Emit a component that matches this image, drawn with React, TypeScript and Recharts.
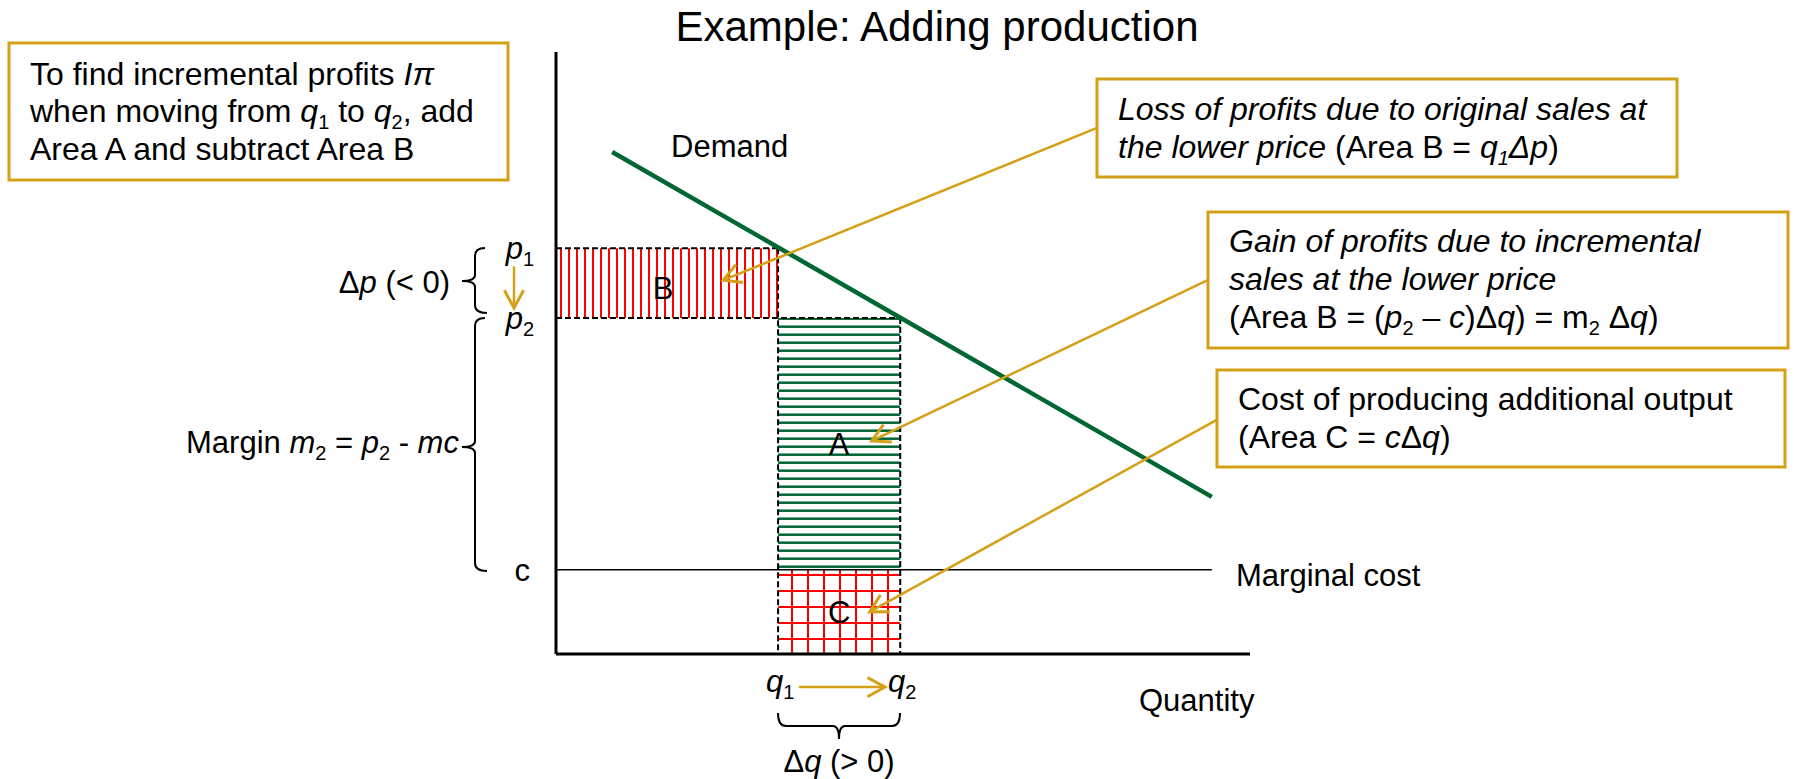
import React from "react";
import {
  ComposedChart,
  XAxis,
  YAxis,
  Line,
  ReferenceArea,
  ReferenceLine,
} from "recharts";

const W = 1794;
const H = 779;
const GOLD = "#D4A017";
const GREEN = "#006633";
const RED = "#FF0000";
const FONT = '"Liberation Sans", Arial, Helvetica, sans-serif';

// quantities and prices (axis units 0..100)
const q1 = 32;
const q2 = 49.6;
const p1 = 67.4;
const p2 = 55.8;
const mc = 14;

const demandPoints = [
  { x: 8.1, y: 83.4 },
  { x: 94.5, y: 26.1 },
];
const mcPoints = [
  { x: 0, y: mc },
  { x: 94.5, y: mc },
];

const xTicks = [q1, q2];
const xTickLabels = [
  ["q", "1"],
  ["q", "2"],
];
const yTicks = [mc, p2, p1];
const yTickLabels = [
  ["c", ""],
  ["p", "2"],
  ["p", "1"],
];

// gold callout arrows, tail -> tip
const calloutArrows = [
  { from: { x: 77.95, y: 87.4 }, to: { x: 24.1, y: 62.1 } },
  { from: { x: 93.9, y: 62.1 }, to: { x: 45.5, y: 35.4 } },
  { from: { x: 95.2, y: 38.9 }, to: { x: 45.2, y: 7.0 } },
  { from: { x: 35.0, y: -5.5 }, to: { x: 47.4, y: -5.5 } },
  { from: { x: -6.05, y: 64.4 }, to: { x: -6.05, y: 57.5 } },
];

const dashedEdges = [
  [{ x: 0, y: p1 }, { x: q1, y: p1 }],
  [{ x: 0, y: p2 }, { x: q2, y: p2 }],
  [{ x: q1, y: p1 }, { x: q1, y: 0 }],
  [{ x: q2, y: p2 }, { x: q2, y: 0 }],
];

type Seg = { t: string; i?: boolean; s?: boolean };

// text with italic pieces and subscripts
function Rich({ segs, ...rest }: { segs: Seg[]; [k: string]: any }) {
  let down = false;
  return (
    <text {...rest} style={{ whiteSpace: "pre" }}>
      {segs.map((g, k) => {
        let dy = 0;
        if (g.s && !down) {
          dy = 7;
          down = true;
        } else if (!g.s && down) {
          dy = -7;
          down = false;
        }
        return (
          <tspan
            key={k}
            dy={dy || undefined}
            fontStyle={g.i ? "italic" : undefined}
            fontSize={g.s ? 20 : undefined}
          >
            {g.t}
          </tspan>
        );
      })}
    </text>
  );
}

function ArrowShape(props: any) {
  const { x1, y1, x2, y2 } = props;
  const ang = Math.atan2(y2 - y1, x2 - x1);
  const len = 20;
  const spread = 0.5;
  const ax = x2 - len * Math.cos(ang - spread);
  const ay = y2 - len * Math.sin(ang - spread);
  const bx = x2 - len * Math.cos(ang + spread);
  const by = y2 - len * Math.sin(ang + spread);
  return (
    <g>
      <line x1={x1} y1={y1} x2={x2} y2={y2} stroke={GOLD} strokeWidth={2.5} />
      <polyline
        points={`${ax},${ay} ${x2},${y2} ${bx},${by}`}
        fill="none"
        stroke={GOLD}
        strokeWidth={3}
      />
    </g>
  );
}

function PriceTick(props: any) {
  const { x, y, payload } = props;
  const i = yTicks.indexOf(payload.value);
  const [base, sub] = yTickLabels[i] || ["", ""];
  const segs: Seg[] = [{ t: base, i: !!sub }];
  if (sub) segs.push({ t: sub, s: true });
  return (
    <Rich
      segs={segs}
      x={sub ? x - 14 : x - 18}
      y={y + 11}
      textAnchor="end"
      fontSize={31}
      fill="#000"
      fontFamily={FONT}
    />
  );
}

function QuantityTick(props: any) {
  const { x, y, payload } = props;
  const i = xTicks.indexOf(payload.value);
  const [base, sub] = xTickLabels[i] || ["", ""];
  return (
    <Rich
      segs={[{ t: base, i: true }, { t: sub, s: true }]}
      x={x + 2}
      y={y + 30}
      textAnchor="middle"
      fontSize={31}
      fill="#000"
      fontFamily={FONT}
    />
  );
}

function vBrace(x: number, y1: number, y2: number, ym: number) {
  const r = 8;
  return `M ${x + 10} ${y1} Q ${x} ${y1} ${x} ${y1 + r} L ${x} ${ym - 6} Q ${x} ${ym} ${x - 13} ${ym} Q ${x} ${ym} ${x} ${ym + 6} L ${x} ${y2 - r} Q ${x} ${y2} ${x + 12} ${y2}`;
}

function hBrace(y: number, x1: number, x2: number, xm: number) {
  return `M ${x1} ${y - 13} Q ${x1} ${y} ${x1 + 8} ${y} L ${xm - 6} ${y} Q ${xm} ${y} ${xm} ${y + 13} Q ${xm} ${y} ${xm + 6} ${y} L ${x2 - 8} ${y} Q ${x2} ${y} ${x2} ${y - 13}`;
}

function Overlay() {
  const box = { fill: "#fff", stroke: GOLD, strokeWidth: 3 };
  return (
    <svg
      width={W}
      height={H}
      style={{ position: "absolute", left: 0, top: 0, pointerEvents: "none" }}
      fontFamily={FONT}
      fontSize={32}
    >
      <defs>
        <pattern id="vStripes" patternUnits="userSpaceOnUse" width={8} height={8}>
          <line x1={1} y1={0} x2={1} y2={8} stroke={RED} strokeWidth={2} />
        </pattern>
        <pattern id="hStripes" patternUnits="userSpaceOnUse" width={8} height={8}>
          <line x1={0} y1={6.7} x2={8} y2={6.7} stroke={GREEN} strokeWidth={2.5} />
        </pattern>
        <pattern id="grid" patternUnits="userSpaceOnUse" width={16} height={16}>
          <line x1={8} y1={0} x2={8} y2={16} stroke={RED} strokeWidth={2} />
          <line x1={0} y1={15} x2={16} y2={15} stroke={RED} strokeWidth={2} />
        </pattern>
      </defs>

      <text x={937} y={41} fontSize={42} textAnchor="middle">
        Example: Adding production
      </text>

      <rect x={9} y={43} width={499} height={137} {...box} />
      <Rich x={30} y={85} segs={[{ t: "To find incremental profits " }, { t: "Iπ", i: true }]} />
      <Rich
        x={30}
        y={122}
        segs={[
          { t: "when moving from " },
          { t: "q", i: true },
          { t: "1", s: true },
          { t: " to " },
          { t: "q", i: true },
          { t: "2", s: true },
          { t: ", add" },
        ]}
      />
      <Rich x={30} y={160} segs={[{ t: "Area A and subtract Area B" }]} />

      <rect x={1097} y={79} width={580} height={98} {...box} />
      <Rich x={1118} y={120} segs={[{ t: "Loss of profits due to original sales at", i: true }]} />
      <Rich
        x={1118}
        y={158}
        segs={[
          { t: "the lower price", i: true },
          { t: " (Area B = " },
          { t: "q", i: true },
          { t: "1", i: true, s: true },
          { t: "Δp", i: true },
          { t: ")" },
        ]}
      />

      <rect x={1208} y={212} width={580} height={136} {...box} />
      <Rich x={1229} y={252} segs={[{ t: "Gain of profits due to incremental", i: true }]} />
      <Rich x={1229} y={290} segs={[{ t: "sales at the lower price", i: true }]} />
      <Rich
        x={1229}
        y={328}
        segs={[
          { t: "(Area B = (" },
          { t: "p", i: true },
          { t: "2", s: true },
          { t: " – " },
          { t: "c", i: true },
          { t: ")Δ" },
          { t: "q", i: true },
          { t: ") = m" },
          { t: "2", s: true },
          { t: " Δ" },
          { t: "q", i: true },
          { t: ")" },
        ]}
      />

      <rect x={1217} y={370} width={568} height={97} {...box} />
      <Rich x={1238} y={410} segs={[{ t: "Cost of producing additional output" }]} />
      <Rich
        x={1238}
        y={448}
        segs={[{ t: "(Area C = " }, { t: "c", i: true }, { t: "Δ" }, { t: "q", i: true }, { t: ")" }]}
      />

      <text x={671} y={157} fontSize={31}>
        Demand
      </text>
      <text x={1236} y={586} fontSize={31}>
        Marginal cost
      </text>
      <text x={1139} y={711} fontSize={31}>
        Quantity
      </text>

      <Rich
        x={450}
        y={293}
        fontSize={31}
        textAnchor="end"
        segs={[{ t: "Δ" }, { t: "p", i: true }, { t: " (< 0)" }]}
      />
      <Rich
        x={186}
        y={453}
        fontSize={31}
        segs={[
          { t: "Margin " },
          { t: "m", i: true },
          { t: "2", s: true },
          { t: " = " },
          { t: "p", i: true },
          { t: "2", s: true },
          { t: " - " },
          { t: "mc", i: true },
        ]}
      />
      <Rich
        x={839}
        y={772}
        fontSize={31}
        textAnchor="middle"
        segs={[{ t: "Δ" }, { t: "q", i: true }, { t: " (> 0)" }]}
      />

      <path d={vBrace(475, 248, 313, 281)} fill="none" stroke="#000" strokeWidth={2} />
      <path d={vBrace(475, 318, 571, 447)} fill="none" stroke="#000" strokeWidth={2} />
      <path d={hBrace(726, 778, 900, 839)} fill="none" stroke="#000" strokeWidth={2} />
    </svg>
  );
}

export default function App() {
  return (
    <div
      style={{
        position: "absolute",
        left: 0,
        top: 0,
        width: W,
        height: H,
        background: "#fff",
        fontFamily: FONT,
      }}
    >
      <ComposedChart
        width={W}
        height={H}
        margin={{ top: 52, right: 544, left: 496, bottom: 95 }}
      >
        <XAxis
          type="number"
          dataKey="x"
          domain={[0, 100]}
          ticks={xTicks}
          interval={0}
          tickLine={false}
          axisLine={{ stroke: "#000", strokeWidth: 3 }}
          tick={<QuantityTick />}
          height={30}
          allowDataOverflow
        />
        <YAxis
          type="number"
          dataKey="y"
          domain={[0, 100]}
          ticks={yTicks}
          interval={0}
          tickLine={false}
          axisLine={{ stroke: "#000", strokeWidth: 3 }}
          tick={<PriceTick />}
          width={60}
          allowDataOverflow
        />

        <ReferenceArea
          x1={0}
          x2={q1}
          y1={p2}
          y2={p1}
          fill="url(#vStripes)"
          fillOpacity={1}
          stroke="none"
          label={{ value: "B", position: "center", fill: "#000", fontSize: 31, dx: -4, dy: 5 }}
        />
        <ReferenceArea
          x1={q1}
          x2={q2}
          y1={mc}
          y2={p2}
          fill="url(#hStripes)"
          fillOpacity={1}
          stroke="none"
          label={{ value: "A", position: "center", fill: "#000", fontSize: 31 }}
        />
        <ReferenceArea
          x1={q1}
          x2={q2}
          y1={0}
          y2={mc}
          fill="url(#grid)"
          fillOpacity={1}
          stroke="none"
          label={{ value: "C", position: "center", fill: "#000", fontSize: 31 }}
        />

        {dashedEdges.map((seg, i) => (
          <ReferenceLine
            key={`d${i}`}
            segment={seg}
            stroke="#000"
            strokeWidth={2}
            strokeDasharray="6 3"
          />
        ))}

        <Line
          data={mcPoints}
          dataKey="y"
          stroke="#000"
          strokeWidth={1.5}
          dot={false}
          isAnimationActive={false}
        />
        <Line
          data={demandPoints}
          dataKey="y"
          stroke={GREEN}
          strokeWidth={4.5}
          dot={false}
          isAnimationActive={false}
        />

        {calloutArrows.map((a, i) => (
          <ReferenceLine
            key={`a${i}`}
            segment={[a.from, a.to]}
            ifOverflow="visible"
            shape={ArrowShape}
          />
        ))}
      </ComposedChart>
      <Overlay />
    </div>
  );
}
